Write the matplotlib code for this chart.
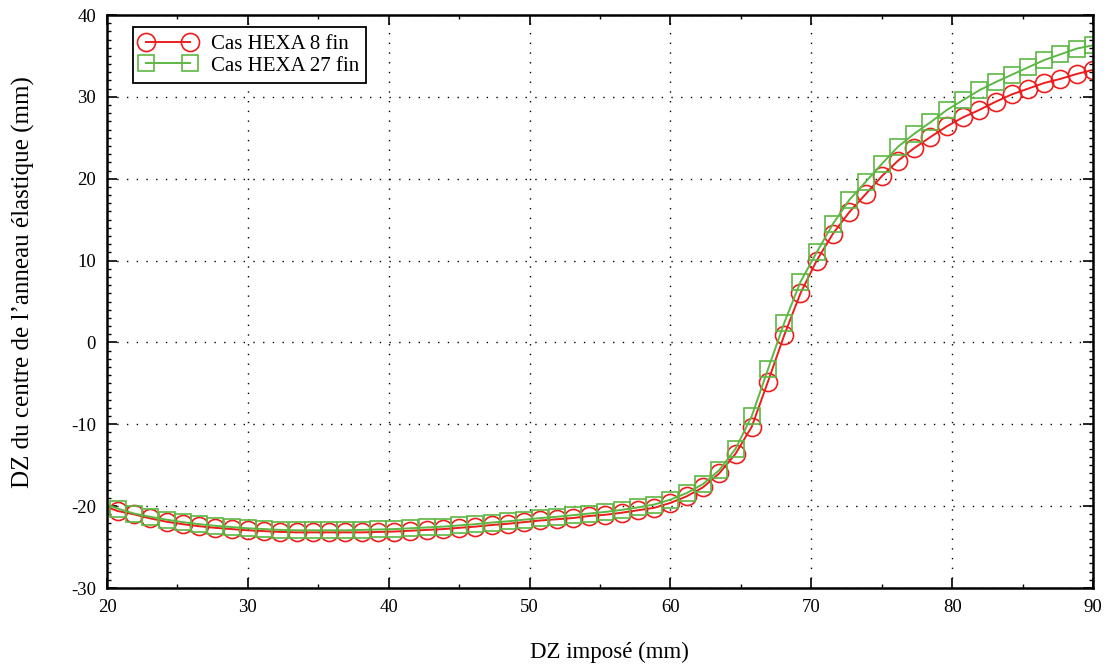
import matplotlib

matplotlib.use("Agg")
import matplotlib.pyplot as plt
import numpy as np
from matplotlib.ticker import MultipleLocator

plt.rcParams["font.family"] = ["Liberation Serif", "DejaVu Serif"]
plt.rcParams["axes.unicode_minus"] = False

# imposed DZ (mm), first point only used for the line entering the frame
dz_impose = [19.62, 20.77, 21.92, 23.08, 24.23, 25.38, 26.54, 27.69, 28.85, 30.0,
             31.15, 32.31, 33.46, 34.62, 35.77, 36.92, 38.08, 39.23, 40.38, 41.54,
             42.69, 43.85, 45.0, 46.15, 47.31, 48.46, 49.62, 50.77, 51.92, 53.08,
             54.23, 55.38, 56.54, 57.69, 58.85, 60.0, 61.15, 62.31, 63.46, 64.62,
             65.77, 66.92, 68.08, 69.23, 70.38, 71.54, 72.69, 73.85, 75.0, 76.15,
             77.31, 78.46, 79.62, 80.77, 81.92, 83.08, 84.23, 85.38, 86.54, 87.69,
             88.85, 90.0]

# HEXA 8 fin
dz_hexa8 = [-19.9, -20.6, -21.0, -21.5, -21.9, -22.2, -22.45, -22.65, -22.8, -22.95,
            -23.05, -23.15, -23.2, -23.2, -23.2, -23.2, -23.2, -23.15, -23.1, -23.0,
            -22.9, -22.8, -22.65, -22.5, -22.3, -22.15, -21.95, -21.75, -21.6, -21.45,
            -21.2, -21.05, -20.8, -20.5, -20.2, -19.6, -18.8, -17.7, -16.0, -13.6,
            -10.3, -4.8, 0.9, 6.0, 10.0, 13.3, 15.9, 18.1, 20.3, 22.2,
            23.75, 25.1, 26.4, 27.5, 28.4, 29.4, 30.3, 31.0, 31.7, 32.2,
            32.8, 33.3]

# HEXA 27 fin
dz_hexa27 = [-19.6, -20.3, -20.9, -21.3, -21.65, -21.95, -22.2, -22.4, -22.55, -22.7,
             -22.8, -22.9, -22.95, -22.95, -22.95, -22.95, -22.9, -22.85, -22.8, -22.7,
             -22.6, -22.5, -22.35, -22.2, -22.0, -21.85, -21.65, -21.45, -21.3, -21.1,
             -20.9, -20.7, -20.45, -20.15, -19.8, -19.2, -18.4, -17.3, -15.6, -13.0,
             -9.0, -3.3, 2.4, 7.4, 11.0, 14.5, 17.4, 19.6, 21.8, 23.9,
             25.5, 26.9, 28.4, 29.6, 30.8, 31.8, 32.7, 33.6, 34.5, 35.2,
             35.9, 36.3]

red = "#ee1d1d"
green = "#5cb843"

fig = plt.figure(figsize=(11.09, 6.67), dpi=100)
ax = fig.add_axes([0.0965, 0.1184, 0.8891, 0.8591])

ax.plot(dz_impose, dz_hexa8, color=red, lw=1.4, marker="o", ms=13,
        mfc="none", mec=red, mew=1.2, markevery=slice(1, None),
        label="Cas HEXA 8 fin")
ax.plot(dz_impose, dz_hexa27, color=green, lw=1.4, marker="s", ms=12,
        mfc="none", mec=green, mew=1.2, markevery=slice(1, None),
        label="Cas HEXA 27 fin")

ax.set_xlim(20, 90)
ax.set_ylim(-30, 40)
ax.xaxis.set_major_locator(MultipleLocator(10))
ax.xaxis.set_minor_locator(MultipleLocator(5))
ax.yaxis.set_major_locator(MultipleLocator(10))
ax.yaxis.set_minor_locator(MultipleLocator(1))
ax.tick_params(which="both", direction="in", top=True, right=True,
               labelsize=13.5, color="black")
ax.tick_params(which="major", length=7, width=1.2, pad=8)
ax.tick_params(which="minor", length=3, width=1.0)
ax.grid(True, which="major", color="black", linestyle=(0, (1, 6)), lw=1.0)
for s in ax.spines.values():
    s.set_linewidth(1.8)

ax.set_xlabel("DZ imposé (mm)", fontsize=16.5)
ax.set_ylabel("DZ du centre de l\u2019anneau élastique (mm)", fontsize=18)
ax.xaxis.set_label_coords(0.51, -0.093)
ax.yaxis.set_label_coords(-0.073, 0.534)

leg = ax.legend(loc="upper left", bbox_to_anchor=(0.026, 0.979), numpoints=2,
                handlelength=2.7, fontsize=15, fancybox=False, framealpha=1,
                edgecolor="black", borderpad=0.35, labelspacing=0.1,
                handletextpad=0.7, borderaxespad=0)
leg.get_frame().set_linewidth(1.3)

fig.savefig("out.png", dpi=100)
